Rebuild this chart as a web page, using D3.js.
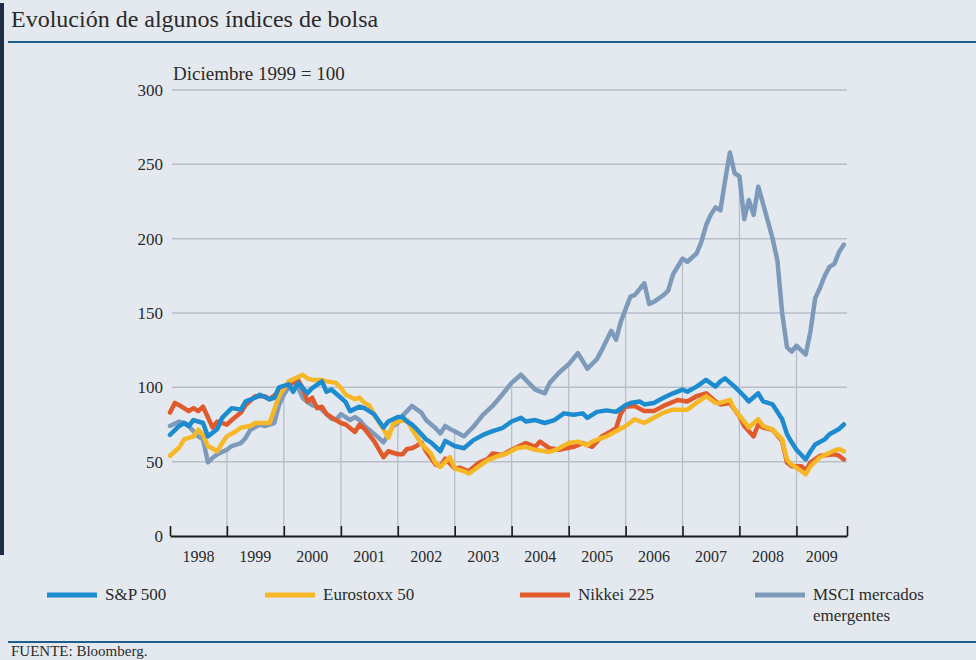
<!DOCTYPE html>
<html>
<head>
<meta charset="utf-8">
<script src="https://cdn.jsdelivr.net/npm/d3@7"></script>
<style>
  html, body { margin: 0; padding: 0; background: #e4e9f0; }
  svg { display: block; }
  text { font-family: "Liberation Serif", "DejaVu Serif", serif; fill: #2a2a2a; }
</style>
</head>
<body>
<script>
// Index values (Diciembre 1999 = 100), [month, value]
var sp500 = [
  ["1998-01",68],["1998-03",74],["1998-04",76],["1998-05",74],["1998-06",78],["1998-08",76],["1998-09",67],
  ["1998-11",72],["1998-12",79.5],["1999-02",86],["1999-04",85],["1999-05",90.5],["1999-07",93],["1999-08",95],
  ["1999-10",92],["1999-11",93],["1999-12",100],["2000-02",102],["2000-03",97],["2000-04",103],["2000-06",96],
  ["2000-07",99.5],["2000-09",104],["2000-10",97],["2000-11",98.5],["2001-01",93],["2001-02",90],["2001-03",84],
  ["2001-05",87],["2001-06",86],["2001-08",82],["2001-10",73],["2001-11",77],["2002-01",80],["2002-02",80],
  ["2002-03",77],["2002-04",75],["2002-05",72],["2002-07",65],["2002-08",63],["2002-10",57],["2002-11",64],
  ["2003-01",60.5],["2003-03",59],["2003-05",64.5],["2003-07",68],["2003-09",70.5],["2003-11",72.5],
  ["2004-01",77],["2004-03",79.5],["2004-04",77],["2004-06",78],["2004-08",76],["2004-10",78],["2004-12",82.5],
  ["2005-02",81.5],["2005-04",82.5],["2005-05",79.5],["2005-07",83.5],["2005-09",84.5],["2005-11",83.5],
  ["2006-01",88],["2006-02",89.5],["2006-04",90.5],["2006-05",88.5],["2006-07",89.5],["2006-09",93],["2006-11",96],
  ["2007-01",98.5],["2007-02",97],["2007-04",100.5],["2007-06",105],["2007-08",100.5],["2007-09",104],["2007-10",106],
  ["2007-12",100.5],["2008-02",94],["2008-03",90.5],["2008-05",96],["2008-06",90.5],["2008-08",88.5],["2008-10",78.5],
  ["2008-11",68.5],["2008-12",63],["2009-01",58],["2009-03",51.5],["2009-04",57],["2009-05",61.5],["2009-07",65],
  ["2009-08",68.5],["2009-10",72],["2009-11",75]
];

var eurostoxx = [
  ["1998-01",54],["1998-03",59.5],["1998-04",65],["1998-06",67],["1998-07",71.5],["1998-08",68],["1998-09",60.5],
  ["1998-11",57],["1998-12",62.5],["1999-01",67],["1999-03",70.5],["1999-04",73],["1999-06",74],["1999-07",76],
  ["1999-09",76],["1999-10",76],["1999-11",85],["1999-12",94],["2000-02",104],["2000-04",107],["2000-05",108.5],
  ["2000-06",106],["2000-07",105],["2000-09",105],["2000-10",104],["2000-12",103],["2001-01",99.5],["2001-02",95],
  ["2001-04",92],["2001-05",93],["2001-06",89.5],["2001-07",88],["2001-08",82],["2001-10",72],["2001-11",66],
  ["2001-12",75],["2002-01",77],["2002-03",78],["2002-04",72],["2002-06",62],["2002-08",55.5],["2002-09",49],
  ["2002-10",46.5],["2002-12",53],["2003-01",45.5],["2003-03",43.5],["2003-04",42],["2003-06",46.5],["2003-08",51],
  ["2003-10",53.5],["2003-12",55.5],["2004-02",59],["2004-04",60],["2004-06",58],["2004-09",56.5],["2004-11",59],
  ["2005-01",62.5],["2005-03",63.5],["2005-05",61],["2005-06",63.5],["2005-09",67],["2005-11",70.5],["2006-01",74],
  ["2006-03",78.5],["2006-05",76],["2006-07",79.5],["2006-09",83],["2006-11",85],["2007-02",85],["2007-04",89.5],
  ["2007-06",94],["2007-08",89.5],["2007-09",89.5],["2007-11",91.5],["2007-12",85],["2008-02",77],["2008-03",73],
  ["2008-05",78.5],["2008-06",74],["2008-08",71.5],["2008-10",65],["2008-11",51.5],["2008-12",48],["2009-01",46],
  ["2009-03",41.5],["2009-04",47],["2009-06",53],["2009-09",57.5],["2009-10",58.5],["2009-11",57]
];

var nikkei = [
  ["1998-01",83],["1998-02",89.5],["1998-03",88],["1998-05",84],["1998-06",86],["1998-07",84],["1998-08",87],
  ["1998-10",73],["1998-11",77],["1999-01",75],["1999-02",78],["1999-04",83],["1999-05",88],["1999-07",94],
  ["1999-09",94],["1999-10",92],["1999-12",97],["2000-02",102],["2000-04",105],["2000-05",99.5],["2000-06",90.5],
  ["2000-07",93],["2000-08",86],["2000-09",87],["2000-10",82],["2000-12",78],["2001-01",76],["2001-02",75],
  ["2001-04",70],["2001-05",75],["2001-06",72],["2001-08",64],["2001-10",53],["2001-11",57],["2002-01",55],
  ["2002-02",55],["2002-03",58.5],["2002-04",59],["2002-05",60.5],["2002-06",63],["2002-07",57],["2002-09",48],
  ["2002-10",47],["2002-11",52],["2003-01",45.5],["2003-02",46],["2003-04",43.5],["2003-06",49],["2003-08",52],
  ["2003-09",55.5],["2003-11",54.5],["2004-01",58],["2004-03",61],["2004-04",62.5],["2004-06",60],["2004-07",63.5],
  ["2004-09",59],["2004-11",58],["2005-02",60],["2005-04",62.5],["2005-06",60],["2005-08",67],["2005-10",70.5],
  ["2005-11",72.5],["2005-12",82.5],["2006-01",87],["2006-03",87.5],["2006-05",84],["2006-07",84],["2006-09",87.5],
  ["2006-12",91.5],["2007-02",90.5],["2007-04",94],["2007-06",96],["2007-08",90.5],["2007-09",88.5],["2007-11",89.5],
  ["2008-01",80.5],["2008-02",74],["2008-04",67],["2008-05",75],["2008-06",73],["2008-08",71.5],["2008-10",64],
  ["2008-11",49.5],["2008-12",47],["2009-02",47],["2009-03",44],["2009-04",49.5],["2009-06",54],["2009-09",55],
  ["2009-10",54],["2009-11",51.5]
];

var msci = [
  ["1998-01",74],["1998-03",77],["1998-04",76],["1998-05",74],["1998-07",67],["1998-08",65],["1998-09",49.5],
  ["1998-10",52.5],["1998-11",55],["1999-01",58],["1999-02",60.5],["1999-04",62.5],["1999-05",66],["1999-06",71.5],
  ["1999-08",75],["1999-09",74],["1999-11",76],["1999-12",88],["2000-01",95],["2000-02",100],["2000-03",104],
  ["2000-04",100],["2000-05",93],["2000-06",90],["2000-07",88],["2000-08",87],["2000-09",85],["2000-10",82],
  ["2000-11",79],["2000-12",78],["2001-01",82],["2001-02",80],["2001-03",78],["2001-04",80],["2001-05",78],
  ["2001-06",74],["2001-07",71.5],["2001-09",66],["2001-10",63],["2001-11",68],["2001-12",74],["2002-01",76],
  ["2002-02",81],["2002-03",84],["2002-04",87.5],["2002-06",83],["2002-07",78],["2002-09",72.5],["2002-10",69],
  ["2002-11",74],["2002-12",72],["2003-01",70.5],["2003-03",67],["2003-05",73.5],["2003-07",81.5],["2003-09",87.5],
  ["2003-11",95],["2004-01",103],["2004-03",108.5],["2004-04",105],["2004-06",98.5],["2004-08",96],["2004-09",103],
  ["2004-11",110],["2005-01",115.5],["2005-03",123],["2005-05",112.5],["2005-07",119],["2005-08",125],["2005-10",138],
  ["2005-11",132],["2005-12",144],["2006-02",161],["2006-03",162],["2006-05",170],["2006-06",156],["2006-07",157.5],
  ["2006-09",162],["2006-10",165],["2006-11",176],["2007-01",186.5],["2007-02",184.5],["2007-04",190],["2007-05",197.5],
  ["2007-06",209],["2007-07",216],["2007-08",221],["2007-09",219],["2007-10",239],["2007-11",258],["2007-12",244],
  ["2008-01",242],["2008-02",213],["2008-03",226],["2008-04",216],["2008-05",235],["2008-07",212],["2008-08",200],
  ["2008-09",185],["2008-10",150],["2008-11",127],["2008-12",124],["2009-01",128],["2009-03",122],["2009-04",138],
  ["2009-05",160],["2009-06",167],["2009-07",175],["2009-08",181],["2009-09",183],["2009-10",191],["2009-11",196]
];

var seriesNames = ["S&P 500", "Eurostoxx 50", "Nikkei 225", "MSCI mercados emergentes"];
var seriesColors = ["#1d8bcf", "#f6b826", "#e05a2c", "#7e9abb"];
var yearLabels = ["1998","1999","2000","2001","2002","2003","2004","2005","2006","2007","2008","2009"];
var yTicks = [0, 50, 100, 150, 200, 250, 300];

var W = 976, H = 660;
var parseMonth = d3.timeParse("%Y-%m");

var svg = d3.select("body").append("svg")
    .attr("width", W)
    .attr("height", H);

svg.append("rect").attr("width", W).attr("height", H).attr("fill", "#e4e9f0");
// dark scan edge on the left
svg.append("rect").attr("x", 0).attr("y", 3).attr("width", 4).attr("height", 552).attr("fill", "#1f2d47");

// title and rules
svg.append("text")
    .attr("x", 11).attr("y", 27)
    .style("font-size", "24px")
    .text("Evolución de algunos índices de bolsa");

svg.append("line").attr("x1", 8).attr("x2", W).attr("y1", 42).attr("y2", 42)
    .attr("stroke", "#1f5f8c").attr("stroke-width", 2);
svg.append("line").attr("x1", 8).attr("x2", W).attr("y1", 642).attr("y2", 642)
    .attr("stroke", "#1f5f8c").attr("stroke-width", 2);

svg.append("text")
    .attr("x", 11).attr("y", 656)
    .style("font-size", "15px")
    .text("FUENTE: Bloomberg.");

var toRows = function(arr) {
    return arr.map(function(d) { return { date: parseMonth(d[0]), value: d[1] }; });
};
var all = [sp500, eurostoxx, nikkei, msci].map(toRows);

var start = parseMonth("1998-01");
var end = d3.timeDay.offset(parseMonth("2009-11"), 20);

var x = d3.scaleTime().domain([start, end]).range([170, 847]);
var y = d3.scaleLinear().domain([0, 300]).range([536, 90]);

svg.append("text")
    .attr("x", 173).attr("y", 80)
    .style("font-size", "19px")
    .text("Diciembre 1999 = 100");

// horizontal grid
svg.append("g").selectAll("line")
    .data(yTicks.filter(function(v) { return v > 0; }))
    .enter().append("line")
    .attr("x1", 172).attr("x2", 847)
    .attr("y1", function(d) { return y(d); })
    .attr("y2", function(d) { return y(d); })
    .attr("stroke", "#b7bec8").attr("stroke-width", 1.5);

// y labels
var yAxis = svg.append("g")
    .attr("transform", "translate(163,0)")
    .call(d3.axisLeft(y).tickValues(yTicks).tickSize(0).tickPadding(0));
yAxis.select(".domain").remove();
yAxis.selectAll("text")
    .style("font-size", "17px")
    .style("font-family", "'Liberation Serif', serif")
    .attr("fill", "#2a2a2a");

// year boundaries; drop lines reach the MSCI line
var yearStarts = yearLabels.slice(1).map(function(yr) { return parseMonth(yr + "-01"); });
var msciRows = all[3];
var bis = d3.bisector(function(d) { return d.date; }).left;
function msciAt(date) {
    var i = bis(msciRows, date);
    if (i <= 0) return msciRows[0].value;
    if (i >= msciRows.length) return msciRows[msciRows.length - 1].value;
    var a = msciRows[i - 1], b = msciRows[i];
    var t = (date - a.date) / (b.date - a.date);
    return a.value + t * (b.value - a.value);
}

svg.append("g").selectAll("line")
    .data(yearStarts)
    .enter().append("line")
    .attr("x1", function(d) { return x(d); })
    .attr("x2", function(d) { return x(d); })
    .attr("y1", y(0))
    .attr("y2", function(d) { return y(msciAt(d)); })
    .attr("stroke", "#b7bec8").attr("stroke-width", 1.3);

// series lines, MSCI at the back
var line = d3.line()
    .x(function(d) { return x(d.date); })
    .y(function(d) { return y(d.value); });

var order = [3, 2, 1, 0];
svg.append("g").selectAll("path")
    .data(order)
    .enter().append("path")
    .attr("d", function(i) { return line(all[i]); })
    .attr("fill", "none")
    .attr("stroke", function(i) { return seriesColors[i]; })
    .attr("stroke-width", 4.5)
    .attr("stroke-linejoin", "round")
    .attr("stroke-linecap", "round");

// x axis with upward ticks
var xAxis = svg.append("g")
    .attr("transform", "translate(0," + y(0) + ")")
    .call(d3.axisBottom(x)
        .tickValues([start].concat(yearStarts, [end]))
        .tickSizeInner(-10)
        .tickSizeOuter(0)
        .tickFormat(""));
xAxis.select(".domain").attr("stroke", "#1a1a1a").attr("stroke-width", 2);
xAxis.selectAll(".tick line").attr("stroke", "#1a1a1a").attr("stroke-width", 1.6);

// year labels centred in each year
svg.append("g").selectAll("text")
    .data(yearLabels)
    .enter().append("text")
    .attr("x", function(yr) {
        var a = d3.max([parseMonth(yr + "-01"), start]);
        var b = d3.min([parseMonth((+yr + 1) + "-01"), end]);
        return (x(a) + x(b)) / 2;
    })
    .attr("y", 562)
    .attr("text-anchor", "middle")
    .style("font-size", "16px")
    .text(function(d) { return d; });

// legend
var legendX = [47, 265, 520, 755];
var legend = svg.append("g").selectAll("g")
    .data(seriesNames)
    .enter().append("g")
    .attr("transform", function(d, i) { return "translate(" + legendX[i] + ",595)"; });

legend.append("line")
    .attr("x1", 0).attr("x2", 50)
    .attr("stroke", function(d, i) { return seriesColors[i]; })
    .attr("stroke-width", 5);

legend.append("text")
    .attr("x", 58).attr("y", 5)
    .style("font-size", "17px")
    .each(function(d) {
        var t = d3.select(this);
        if (d.indexOf("MSCI") === 0) {
            t.append("tspan").attr("x", 58).text("MSCI mercados");
            t.append("tspan").attr("x", 58).attr("dy", 21).text("emergentes");
        } else {
            t.text(d);
        }
    });
</script>
</body>
</html>
